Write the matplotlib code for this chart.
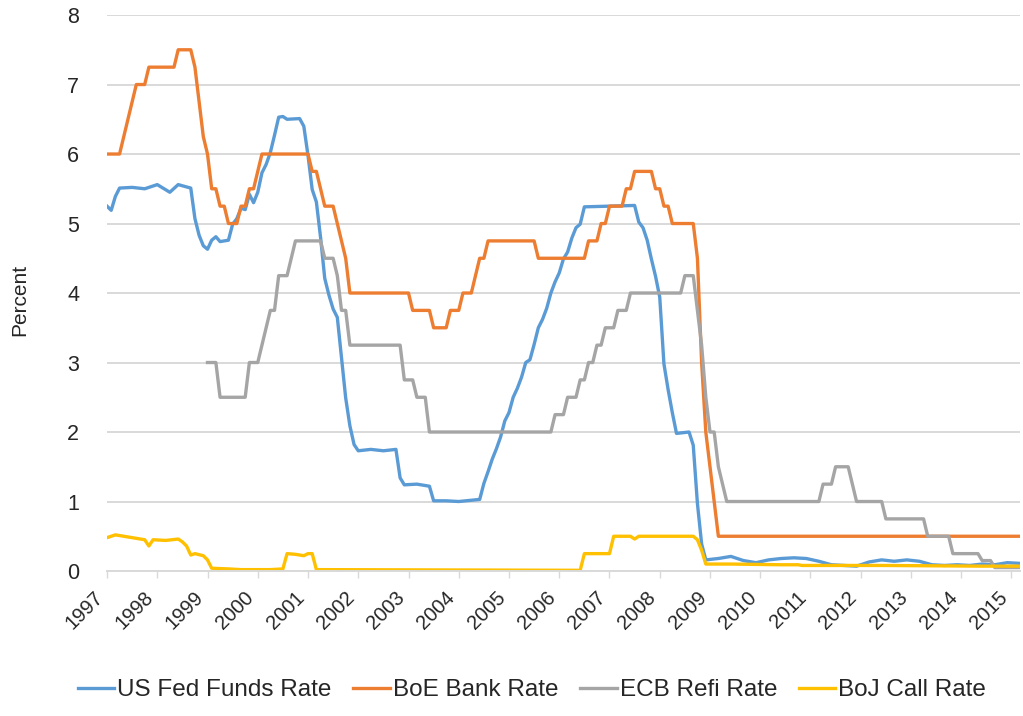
import matplotlib
matplotlib.use("Agg")
import matplotlib.pyplot as plt
import numpy as np

# Policy rates as (month, percent) breakpoints
fed_dates = ["1997-01", "1997-02", "1997-03", "1997-04", "1997-07", "1997-10", "1998-01", "1998-04",
             "1998-06", "1998-09", "1998-10", "1998-11", "1998-12", "1999-01", "1999-02", "1999-03",
             "1999-04", "1999-06", "1999-07", "1999-08", "1999-09", "1999-10", "1999-11", "1999-12",
             "2000-01", "2000-02", "2000-03", "2000-04", "2000-05", "2000-06", "2000-07", "2000-08",
             "2000-11", "2000-12", "2001-01", "2001-02", "2001-03", "2001-04", "2001-05", "2001-06",
             "2001-07", "2001-08", "2001-09", "2001-10", "2001-11", "2001-12", "2002-01", "2002-04",
             "2002-07", "2002-10", "2002-11", "2002-12", "2003-03", "2003-06", "2003-07", "2003-10",
             "2004-01", "2004-06", "2004-07", "2004-08", "2004-09", "2004-10", "2004-11", "2004-12",
             "2005-01", "2005-02", "2005-03", "2005-04", "2005-05", "2005-06", "2005-07", "2005-08",
             "2005-09", "2005-10", "2005-11", "2005-12", "2006-01", "2006-02", "2006-03", "2006-04",
             "2006-05", "2006-06", "2006-07", "2007-07", "2007-08", "2007-09", "2007-10", "2007-11",
             "2007-12", "2008-01", "2008-02", "2008-03", "2008-04", "2008-05", "2008-08", "2008-09",
             "2008-10", "2008-11", "2008-12", "2009-03", "2009-06", "2009-09", "2009-12", "2010-03",
             "2010-06", "2010-09", "2010-12", "2011-03", "2011-06", "2011-09", "2011-12", "2012-03",
             "2012-06", "2012-09", "2012-12", "2013-03", "2013-06", "2013-09", "2013-12", "2014-03",
             "2014-06", "2014-09", "2014-12", "2015-03"]
fed_rate = [5.25, 5.19, 5.39, 5.51, 5.52, 5.50, 5.56, 5.45,
            5.56, 5.51, 5.07, 4.83, 4.68, 4.63, 4.76, 4.81,
            4.74, 4.76, 4.99, 5.07, 5.22, 5.20, 5.42, 5.30,
            5.45, 5.73, 5.85, 6.02, 6.27, 6.53, 6.54, 6.50,
            6.51, 6.40, 5.98, 5.49, 5.31, 4.80, 4.21, 3.97,
            3.77, 3.65, 3.07, 2.49, 2.09, 1.82, 1.73, 1.75,
            1.73, 1.75, 1.34, 1.24, 1.25, 1.22, 1.01, 1.01,
            1.00, 1.03, 1.26, 1.43, 1.61, 1.76, 1.93, 2.16,
            2.28, 2.50, 2.63, 2.79, 3.00, 3.04, 3.26, 3.50,
            3.62, 3.78, 4.00, 4.16, 4.29, 4.49, 4.59, 4.79,
            4.94, 4.99, 5.24, 5.26, 5.02, 4.94, 4.76, 4.49,
            4.24, 3.94, 2.98, 2.61, 2.28, 1.98, 2.00, 1.81,
            0.97, 0.39, 0.16, 0.18, 0.21, 0.15, 0.12, 0.16,
            0.18, 0.19, 0.18, 0.14, 0.09, 0.08, 0.07, 0.13,
            0.16, 0.14, 0.16, 0.14, 0.09, 0.08, 0.09, 0.08,
            0.10, 0.09, 0.12, 0.11]

boe_dates = ["1997-01", "1997-04", "1997-05", "1997-06", "1997-07", "1997-08", "1997-10", "1997-11",
             "1998-05", "1998-06", "1998-09", "1998-10", "1998-11", "1998-12", "1999-01", "1999-02",
             "1999-03", "1999-04", "1999-05", "1999-06", "1999-08", "1999-09", "1999-10", "1999-11",
             "1999-12", "2000-01", "2000-02", "2001-01", "2001-02", "2001-03", "2001-04", "2001-05",
             "2001-07", "2001-08", "2001-09", "2001-10", "2001-11", "2003-01", "2003-02", "2003-06",
             "2003-07", "2003-10", "2003-11", "2004-01", "2004-02", "2004-04", "2004-05", "2004-06",
             "2004-07", "2004-08", "2005-07", "2005-08", "2006-07", "2006-08", "2006-10", "2006-11",
             "2006-12", "2007-01", "2007-04", "2007-05", "2007-06", "2007-07", "2007-11", "2007-12",
             "2008-01", "2008-02", "2008-03", "2008-04", "2008-09", "2008-10", "2008-11", "2008-12",
             "2009-01", "2009-02", "2009-03", "2015-03"]
boe_rate = [6.00, 6.00, 6.25, 6.50, 6.75, 7.00, 7.00, 7.25,
            7.25, 7.50, 7.50, 7.25, 6.75, 6.25, 6.00, 5.50,
            5.50, 5.25, 5.25, 5.00, 5.00, 5.25, 5.25, 5.50,
            5.50, 5.75, 6.00, 6.00, 5.75, 5.75, 5.50, 5.25,
            5.25, 5.00, 4.75, 4.50, 4.00, 4.00, 3.75, 3.75,
            3.50, 3.50, 3.75, 3.75, 4.00, 4.00, 4.25, 4.50,
            4.50, 4.75, 4.75, 4.50, 4.50, 4.75, 4.75, 5.00,
            5.00, 5.25, 5.25, 5.50, 5.50, 5.75, 5.75, 5.50,
            5.50, 5.25, 5.25, 5.00, 5.00, 4.50, 3.00, 2.00,
            1.50, 1.00, 0.50, 0.50]

ecb_dates = ["1999-01", "1999-03", "1999-04", "1999-10", "1999-11", "2000-01", "2000-02", "2000-03",
             "2000-04", "2000-05", "2000-06", "2000-08", "2000-09", "2000-10", "2001-04", "2001-05",
             "2001-07", "2001-08", "2001-09", "2001-10", "2001-11", "2002-11", "2002-12", "2003-02",
             "2003-03", "2003-05", "2003-06", "2005-11", "2005-12", "2006-02", "2006-03", "2006-05",
             "2006-06", "2006-07", "2006-08", "2006-09", "2006-10", "2006-11", "2006-12", "2007-02",
             "2007-03", "2007-05", "2007-06", "2008-06", "2008-07", "2008-09", "2008-10", "2008-11",
             "2008-12", "2009-01", "2009-02", "2009-03", "2009-04", "2009-05", "2011-03", "2011-04",
             "2011-06", "2011-07", "2011-10", "2011-11", "2011-12", "2012-06", "2012-07", "2013-04",
             "2013-05", "2013-10", "2013-11", "2014-05", "2014-06", "2014-08", "2014-09", "2015-03"]
ecb_rate = [3.00, 3.00, 2.50, 2.50, 3.00, 3.00, 3.25, 3.50,
            3.75, 3.75, 4.25, 4.25, 4.50, 4.75, 4.75, 4.50,
            4.50, 4.25, 3.75, 3.75, 3.25, 3.25, 2.75, 2.75,
            2.50, 2.50, 2.00, 2.00, 2.25, 2.25, 2.50, 2.50,
            2.75, 2.75, 3.00, 3.00, 3.25, 3.25, 3.50, 3.50,
            3.75, 3.75, 4.00, 4.00, 4.25, 4.25, 3.75, 3.25,
            2.50, 2.00, 2.00, 1.50, 1.25, 1.00, 1.00, 1.25,
            1.25, 1.50, 1.50, 1.25, 1.00, 1.00, 0.75, 0.75,
            0.50, 0.50, 0.25, 0.25, 0.15, 0.15, 0.05, 0.05]

boj_dates = ["1997-01", "1997-03", "1997-07", "1997-10", "1997-11", "1997-12", "1998-03", "1998-06",
             "1998-07", "1998-08", "1998-09", "1998-10", "1998-12", "1999-01", "1999-02", "1999-06",
             "1999-09", "2000-01", "2000-04", "2000-07", "2000-08", "2000-10", "2000-12", "2001-01",
             "2001-02", "2001-03", "2006-06", "2006-07", "2007-01", "2007-02", "2007-06", "2007-07",
             "2007-08", "2008-09", "2008-10", "2008-11", "2008-12", "2009-06", "2010-06", "2010-10",
             "2010-11", "2012-06", "2014-06", "2015-03"]
boj_rate = [0.48, 0.52, 0.48, 0.45, 0.36, 0.45, 0.44, 0.46,
            0.42, 0.36, 0.23, 0.25, 0.22, 0.16, 0.04, 0.03,
            0.02, 0.02, 0.02, 0.03, 0.25, 0.24, 0.22, 0.25,
            0.25, 0.02, 0.01, 0.25, 0.25, 0.50, 0.50, 0.46,
            0.50, 0.50, 0.45, 0.30, 0.10, 0.10, 0.09, 0.09,
            0.08, 0.08, 0.07, 0.07]

years = list(range(1997, 2016))


def to_year(dates):
    # "YYYY-MM" -> decimal year
    return np.array([int(d[:4]) + (int(d[5:]) - 1) / 12 for d in dates])


plt.rcParams['font.family'] = ['Liberation Sans', 'DejaVu Sans']

fig = plt.figure(figsize=(10.23, 7.16), dpi=100)
ax = fig.add_axes([0.1046, 0.2025, 0.8925, 0.7765])

lw = 2.4
ax.plot(to_year(fed_dates), fed_rate, color="#5B9BD5", lw=lw, label="US Fed Funds Rate")
ax.plot(to_year(boe_dates), boe_rate, color="#ED7D31", lw=lw, label="BoE Bank Rate")
ax.plot(to_year(ecb_dates), ecb_rate, color="#A5A5A5", lw=lw, label="ECB Refi Rate")
ax.plot(to_year(boj_dates), boj_rate, color="#FFC000", lw=lw, label="BoJ Call Rate")

ax.set_xlim(1997, 2015.17)
ax.set_ylim(0, 8)
ax.set_yticks(range(0, 9))
ax.set_xticks(years)
ax.set_xticklabels([str(y) for y in years], rotation=45, ha="right")

ax.grid(axis="y", color="#d9d9d9", lw=1.4)
ax.set_axisbelow(True)
for s in ["top", "right", "left"]:
    ax.spines[s].set_visible(False)
ax.spines["bottom"].set_color("#d9d9d9")
ax.spines["bottom"].set_linewidth(1.4)

ax.tick_params(axis="y", length=0, pad=20, labelsize=15.5, labelcolor="#262626")
ax.tick_params(axis="x", length=5, width=1, color="#d9d9d9", pad=7, labelsize=14.5, labelcolor="#262626")

ax.set_ylabel("Percent", fontsize=15, color="#262626")
ax.yaxis.set_label_coords(-0.085, 0.487)

fig.legend(loc="center", bbox_to_anchor=(0.52, 0.036), ncol=4, frameon=False,
           fontsize=17.5, handlelength=1.5, handletextpad=0.12, columnspacing=0.9,
           labelcolor="#262626")

fig.savefig("out.png", dpi=100)
